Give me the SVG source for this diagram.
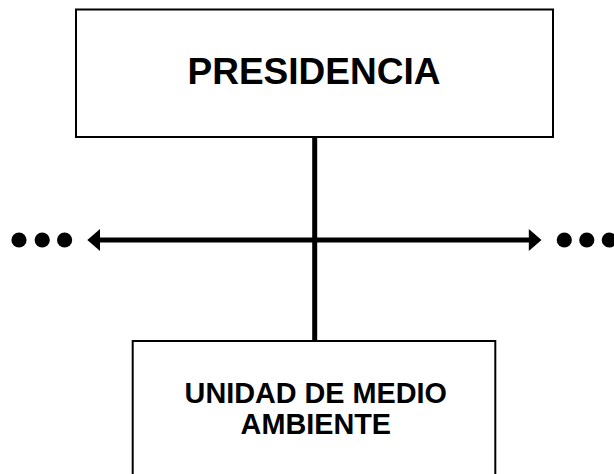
<svg xmlns="http://www.w3.org/2000/svg" width="614" height="474" viewBox="0 0 614 474">
<style>
.box{fill:#fff;stroke:#000;stroke-width:2}
.t{font-family:"Liberation Sans",Arial,sans-serif;font-weight:bold;fill:#000;text-anchor:middle}
.ln{stroke:#000;stroke-width:5;fill:none}
.dot{fill:#000}
</style>
<rect width="614" height="474" fill="#fff"/>
<g id="connectors">
<line class="ln" x1="314.7" y1="137" x2="314.7" y2="341"/>
<line class="ln" x1="99" y1="240" x2="530" y2="240"/>
<polygon points="87.3,240 100,229 100,251" fill="#000"/>
<polygon points="541.5,240 528.8,229 528.8,251" fill="#000"/>
<circle class="dot" cx="19" cy="240" r="7.6"/>
<circle class="dot" cx="42.2" cy="240" r="7.6"/>
<circle class="dot" cx="64.6" cy="240" r="7.6"/>
<circle class="dot" cx="564.3" cy="240" r="7.6"/>
<circle class="dot" cx="586.8" cy="240" r="7.6"/>
<circle class="dot" cx="609.3" cy="240" r="7.6"/>
</g>
<g id="presidencia">
<rect class="box" x="76" y="9.5" width="477" height="127.5"/>
<text class="t" x="314" y="84.3" font-size="37">PRESIDENCIA</text>
</g>
<g id="unidad">
<rect class="box" x="132.7" y="341" width="362.6" height="140"/>
<text class="t" x="315.8" y="403.3" font-size="28.8">UNIDAD DE MEDIO</text>
<text class="t" x="315.8" y="434.3" font-size="28.8">AMBIENTE</text>
</g>
</svg>
